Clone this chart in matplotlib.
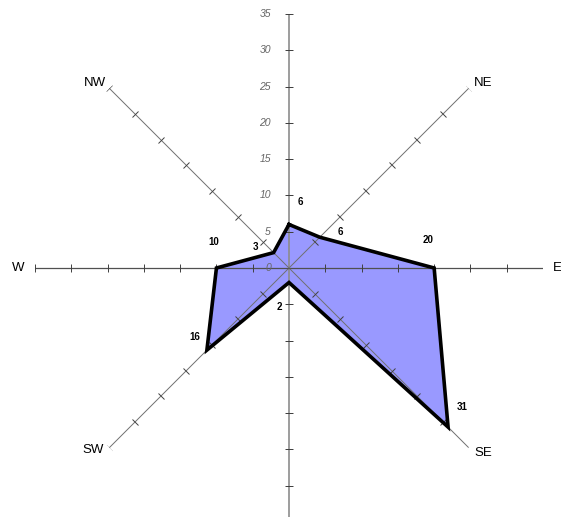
import numpy as np
import matplotlib
matplotlib.use('Agg')
import matplotlib.pyplot as plt
from matplotlib.markers import MarkerStyle
from matplotlib.transforms import Affine2D

# wind directions, clockwise from north
directions = ['N', 'NE', 'E', 'SE', 'S', 'SW', 'W', 'NW']
counts = [6, 6, 20, 31, 2, 16, 10, 3]
scale_ticks = [0, 5, 10, 15, 20, 25, 30, 35]
R_MAX = 35

# pixel offsets of the value labels from their points (x right, y up)
VALUE_OFFSETS = [(11, 22), (21, 5), (-6, 28), (14, 20),
                 (-10, -24), (-12, 13), (-3, 26), (-18, 6)]
# pixel offsets of the direction labels from the spoke ends
LABEL_OFFSETS = {'NE': (15, 5), 'E': (14, 0), 'SE': (15, -5),
                 'SW': (-16, -2), 'W': (-17, 0), 'NW': (-14, 5)}

DPI = 100
fig = plt.figure(figsize=(5.61, 5.17), dpi=DPI)
fig.patch.set_facecolor('white')

# polar axes placed so the centre sits at (289, 268) px
rad_px = 254
cx, cy = 289, 517 - 268
ax = fig.add_axes([(cx - rad_px) / 561, (cy - rad_px) / 517,
                   2 * rad_px / 561, 2 * rad_px / 517], projection='polar')
ax.set_theta_zero_location('N')
ax.set_theta_direction(-1)
ax.set_ylim(0, R_MAX)
ax.grid(False)
ax.spines['polar'].set_visible(False)
ax.set_xticks([])
ax.set_yticks([])
ax.patch.set_alpha(0)

angles_deg = np.arange(len(directions)) * 360.0 / len(directions)
angles = np.deg2rad(angles_deg)
pt = 72.0 / DPI

# polygon
theta = np.append(angles, angles[0])
vals = np.append(counts, counts[0])
ax.fill(theta, vals, facecolor='#9999ff', edgecolor='none', zorder=1)

# spokes with small ticks every 5 units
for name, a, ad in zip(directions, angles, angles_deg):
    if name in ('N', 'S'):
        col, lw = '#8c8c8c', 1.2
    elif name in ('E', 'W'):
        col, lw = '#505050', 0.9
    else:
        col, lw = '#707070', 0.7
    ax.plot([a, a], [0, R_MAX], color=col, lw=lw, zorder=2)
    mk = MarkerStyle('_', transform=Affine2D().rotate_deg(-ad))
    ax.plot([a] * (len(scale_ticks) - 1), scale_ticks[1:], linestyle='none',
            marker=mk, markersize=5.5, markeredgecolor='#404040',
            markeredgewidth=0.7, zorder=2)

ax.plot(theta, vals, color='black', lw=2.6, solid_joinstyle='miter', zorder=3)

# scale labels along the north spoke
for t in scale_ticks:
    ax.annotate(str(t), xy=(0, t), xytext=(-18 * pt, 0), textcoords='offset points',
                ha='right', va='center', fontsize=7.5, style='italic',
                color='#666666', family='Liberation Sans')

# value labels
for a, v, (dx, dy) in zip(angles, counts, VALUE_OFFSETS):
    ax.annotate(str(v), xy=(a, v), xytext=(dx * pt, dy * pt), textcoords='offset points',
                ha='center', va='center', fontsize=7, fontweight='bold',
                color='black', family='Liberation Sans')

# direction labels (N and S fall outside the picture)
for name, a in zip(directions, angles):
    if name not in LABEL_OFFSETS:
        continue
    dx, dy = LABEL_OFFSETS[name]
    ax.annotate(name, xy=(a, R_MAX), xytext=(dx * pt, dy * pt),
                textcoords='offset points', ha='center', va='center',
                fontsize=9.5, color='black', family='Liberation Sans',
                annotation_clip=False)

fig.savefig('out.png', dpi=DPI)
